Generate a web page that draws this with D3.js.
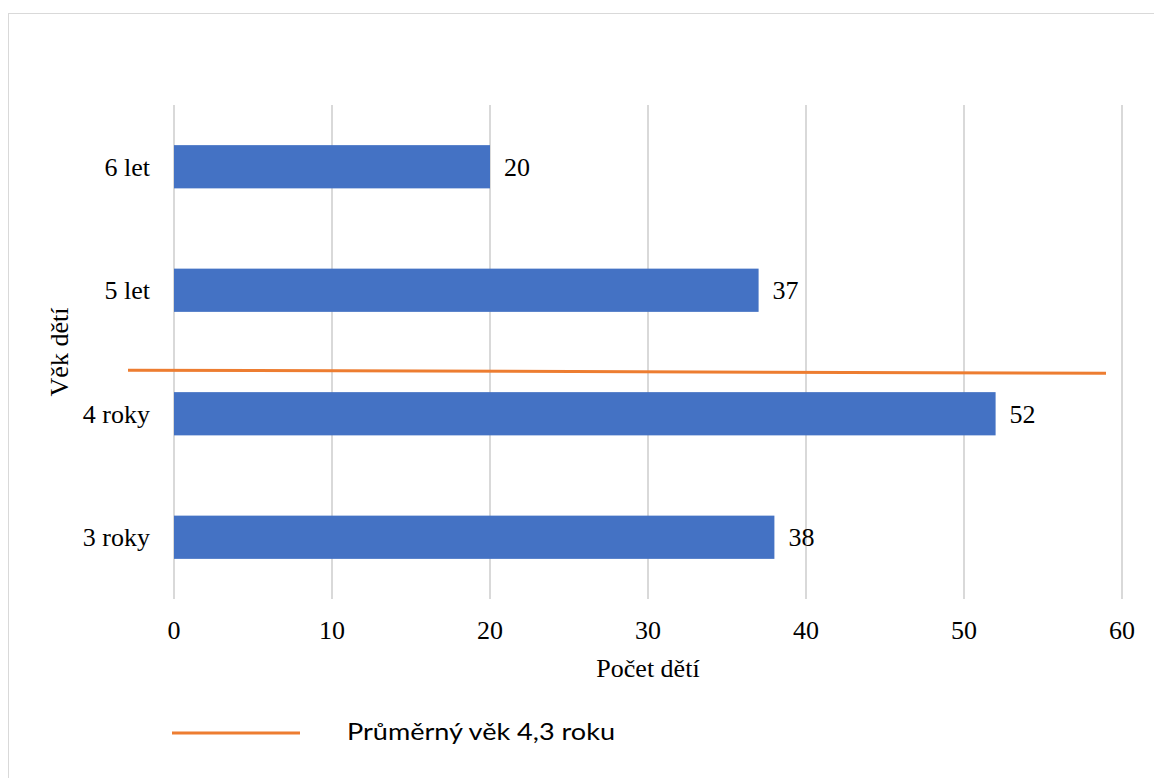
<!DOCTYPE html>
<html>
<head>
<meta charset="utf-8">
<script src="https://d3js.org/d3.v7.min.js"></script>
<style>
  body { margin: 0; background: #fff; }
  svg { display: block; }
  text.serif { font-family: "Liberation Serif", "Times New Roman", Times, "DejaVu Serif", serif; }
  text.sans { font-family: Lato, "Open Sans", sans-serif; }
</style>
</head>
<body>
<div class="chart"></div>
<script>
var w = 1154;
var h = 778;

// data
var categories = ["6 let", "5 let", "4 roky", "3 roky"];
var counts = [20, 37, 52, 38];
var xTicks = [0, 10, 20, 30, 40, 50, 60];
var avgAge = 4.3;
var avgLabel = "Průměrný věk 4,3 roku";

var margin = {left: 174, right: 32, top: 105, bottom: 180};

var svg = d3.select(".chart")
            .append("svg")
            .attr("width", w)
            .attr("height", h);

// chart border (right/bottom run off the picture)
svg.append("rect")
   .attr("x", 8.5).attr("y", 13.5)
   .attr("width", w).attr("height", h)
   .attr("fill", "none")
   .attr("stroke", "#d9d9d9");

var x = d3.scaleLinear().domain([0, 60]).range([margin.left, w - margin.right]);
var y = d3.scaleBand().domain(categories)
          .range([margin.top, 599])
          .paddingInner(0.65).paddingOuter(0.325);

// gridlines
svg.selectAll(".grid")
   .data(xTicks)
   .enter()
   .append("line")
   .attr("x1", function (d) {return x(d)})
   .attr("x2", function (d) {return x(d)})
   .attr("y1", margin.top)
   .attr("y2", 599)
   .attr("stroke", "#d9d9d9")
   .attr("stroke-width", 2);

// bars
svg.selectAll(".bar")
   .data(counts)
   .enter()
   .append("rect")
   .attr("x", x(0))
   .attr("y", function (d, i) {return y(categories[i])})
   .attr("width", function (d) {return x(d) - x(0)})
   .attr("height", y.bandwidth())
   .attr("fill", "#4472c4");

// data labels
svg.selectAll(".val")
   .data(counts)
   .enter()
   .append("text")
   .attr("class", "serif")
   .text(function (d) {return d})
   .attr("x", function (d) {return x(d) + 14})
   .attr("y", function (d, i) {return y(categories[i]) + y.bandwidth() / 2 + 9})
   .attr("font-size", 26)
   .attr("fill", "#000");

// category labels
svg.selectAll(".cat")
   .data(categories)
   .enter()
   .append("text")
   .attr("class", "serif")
   .text(function (d) {return d})
   .attr("x", x(0) - 24)
   .attr("y", function (d) {return y(d) + y.bandwidth() / 2 + 9})
   .attr("text-anchor", "end")
   .attr("font-size", 26)
   .attr("fill", "#000");

// x tick labels
svg.selectAll(".tick-x")
   .data(xTicks)
   .enter()
   .append("text")
   .attr("class", "serif")
   .text(function (d) {return d})
   .attr("x", function (d) {return x(d)})
   .attr("y", 639)
   .attr("text-anchor", "middle")
   .attr("font-size", 26)
   .attr("fill", "#000");

// axis titles
svg.append("text")
   .attr("class", "serif")
   .text("Počet dětí")
   .attr("x", (x(0) + x(60)) / 2)
   .attr("y", 677)
   .attr("text-anchor", "middle")
   .attr("font-size", 26)
   .attr("fill", "#000");

svg.append("text")
   .attr("class", "serif")
   .text("Věk dětí")
   .attr("transform", "translate(68,352) rotate(-90)")
   .attr("text-anchor", "middle")
   .attr("font-size", 26)
   .attr("fill", "#000");

// average line placed on the age axis running from 6 let (top) to 3 roky (bottom)
var ageScale = d3.scaleLinear()
                 .domain([6, 3])
                 .range([y("6 let") + y.bandwidth() / 2, y("3 roky") + y.bandwidth() / 2]);
var avgY = ageScale(avgAge) - 5;
svg.append("line")
   .attr("x1", 128).attr("x2", 1106)
   .attr("y1", avgY - 1.5).attr("y2", avgY + 1.5)
   .attr("stroke", "#ed7d31")
   .attr("stroke-width", 3);

// legend
svg.append("line")
   .attr("x1", 172).attr("x2", 300)
   .attr("y1", 733).attr("y2", 733)
   .attr("stroke", "#ed7d31")
   .attr("stroke-width", 3);

svg.append("text")
   .attr("class", "sans")
   .text(avgLabel)
   .attr("x", 347)
   .attr("y", 740)
   .attr("font-size", 24)
   .attr("textLength", 268)
   .attr("lengthAdjust", "spacingAndGlyphs")
   .attr("fill", "#000");
</script>
</body>
</html>
